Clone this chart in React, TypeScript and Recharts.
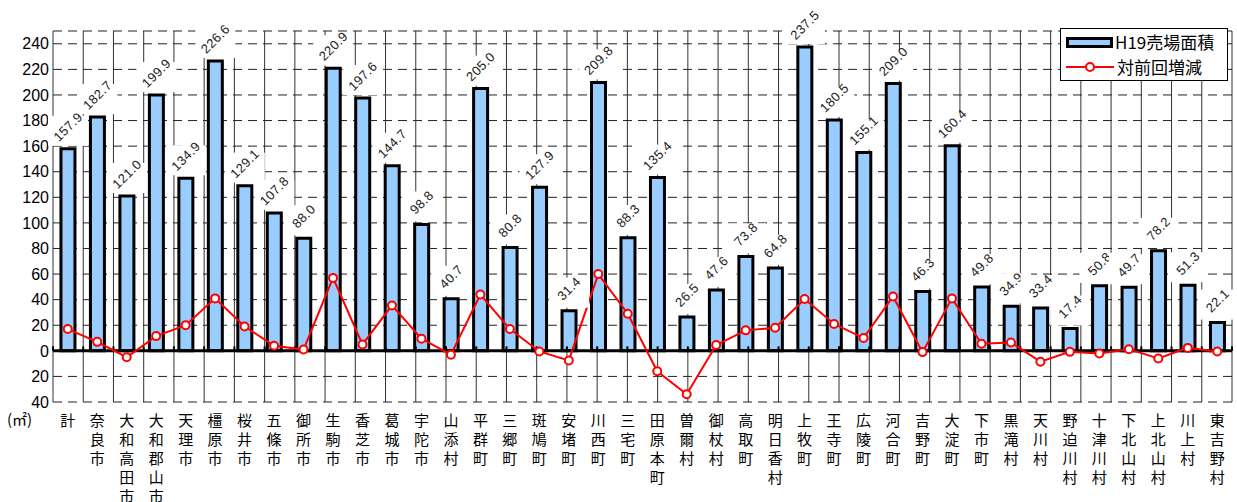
import React from "react";
import {
  ComposedChart,
  Bar,
  Line,
  XAxis,
  YAxis,
  CartesianGrid,
  ReferenceLine,
  ReferenceArea,
} from "recharts";

document.body.style.margin = "0";

// ── Data ──────────────────────────────────────────────────────────────────────

const areaNames = [
  "計", "奈良市", "大和高田市", "大和郡山市", "天理市", "橿原市", "桜井市", "五條市",
  "御所市", "生駒市", "香芝市", "葛城市", "宇陀市", "山添村", "平群町", "三郷町",
  "斑鳩町", "安堵町", "川西町", "三宅町", "田原本町", "曽爾村", "御杖村", "高取町",
  "明日香村", "上牧町", "王寺町", "広陵町", "河合町", "吉野町", "大淀町", "下市町",
  "黒滝村", "天川村", "野迫川村", "十津川村", "下北山村", "上北山村", "川上村", "東吉野村",
];

// H19売場面積
const floorArea = [
  157.9, 182.7, 121.0, 199.9, 134.9, 226.6, 129.1, 107.8, 88.0, 220.9,
  197.6, 144.7, 98.8, 40.7, 205.0, 80.8, 127.9, 31.4, 209.8, 88.3,
  135.4, 26.5, 47.6, 73.8, 64.8, 237.5, 180.5, 155.1, 209.0, 46.3,
  160.4, 49.8, 34.9, 33.4, 17.4, 50.8, 49.7, 78.2, 51.3, 22.1,
];

// 対前回増減
const changeVsPrev = [
  17, 7, -5, 11.5, 20, 41, 19, 4, 1, 57,
  5, 35.5, 9.5, -3, 44, 17, -0.5, -7.5, 60, 29,
  -16, -34, 4.5, 16, 18, 40.5, 21, 10, 42.5, -1,
  41, 5.5, 6.5, -8.5, -0.8, -2, 1.3, -6, 2.3, -0.5,
];

const yTicks = [-40, -20, 0, 20, 40, 60, 80, 100, 120, 140, 160, 180, 200, 220, 240];

const chartData = areaNames.map((name, i) => ({
  name,
  area: floorArea[i],
  change: changeVsPrev[i],
}));

const boundaries = [...areaNames.map((_, i) => i), areaNames.length];

// ── Styles ────────────────────────────────────────────────────────────────────

const LATIN = "'Liberation Sans', Arial, sans-serif";
const CJK = "'Noto Sans CJK JP', sans-serif";
const BAR_FILL = "#99CCFF";
const RED = "#FF0000";

// ── Custom pieces ─────────────────────────────────────────────────────────────

function CatTick(props: any) {
  const { x, y, payload } = props;
  const chars = String(payload.value).split("");
  return (
    <text x={x} y={y + 22} textAnchor="middle" fontSize={15} fontFamily={CJK} fill="#000">
      {chars.map((c, i) => (
        <tspan key={i} x={x} dy={i === 0 ? 0 : 19}>
          {c}
        </tspan>
      ))}
    </text>
  );
}

// rotated value label with a white box behind it (like the Excel original)
function renderValueLabel(props: any) {
  const { x, y, width, index } = props;
  const value = floorArea[index];
  const cx = Number(x) + Number(width) / 2;
  const top = Number(y);
  const cy = top - 22;
  return (
    <g key={`lbl-${index}`}>
      <rect x={cx - 20} y={top - 33} width={40} height={30} fill="#fff" />
      <text
        x={cx}
        y={cy + 4.5}
        transform={`rotate(-45, ${cx}, ${cy})`}
        textAnchor="middle"
        fontSize={13}
        fontFamily={LATIN}
        fill="#222"
        letterSpacing={0.4}
      >
        {value.toFixed(1)}
      </text>
    </g>
  );
}

function Legend() {
  return (
    <div
      style={{
        position: "absolute",
        left: 1060,
        top: 28,
        width: 166,
        height: 51,
        border: "1px solid #000",
        background: "#fff",
        fontFamily: CJK,
        fontSize: 17,
        color: "#000",
      }}
    >
      <div style={{ position: "absolute", left: 5, top: 8, width: 41, height: 5, border: "3px solid #000", background: BAR_FILL }} />
      <div style={{ position: "absolute", left: 54, top: 0, lineHeight: "26px" }}>H19売場面積</div>
      <svg style={{ position: "absolute", left: 5, top: 30 }} width={50} height={16}>
        <line x1={0} y1={8} x2={48} y2={8} stroke={RED} strokeWidth={2} />
        <circle cx={24} cy={8} r={4} fill="#fff" stroke={RED} strokeWidth={2} />
      </svg>
      <div style={{ position: "absolute", left: 56, top: 25, lineHeight: "26px" }}>対前回増減</div>
    </div>
  );
}

// ── Chart ─────────────────────────────────────────────────────────────────────

export default function App() {
  return (
    <div style={{ position: "relative", width: 1237, height: 502, background: "#fff", overflow: "hidden" }}>
      <ComposedChart
        width={1237}
        height={502}
        data={chartData}
        margin={{ top: 31, right: 5, left: 0, bottom: 0 }}
        barCategoryGap="27%"
      >
        <XAxis xAxisId="grid" type="number" domain={[0, areaNames.length]} ticks={boundaries} hide />
        <XAxis
          xAxisId="cat"
          dataKey="name"
          interval={0}
          height={100}
          tickLine={false}
          axisLine={false}
          tickSize={0}
          tick={<CatTick />}
        />
        <YAxis
          domain={[-40, 250]}
          ticks={yTicks}
          width={53}
          tickLine={false}
          axisLine={false}
          tickSize={0}
          tickMargin={4}
          tickFormatter={(v: number) => String(Math.abs(v))}
          tick={{ fill: "#000", fontSize: 16, fontFamily: LATIN }}
        />
        <CartesianGrid xAxisId="grid" horizontal={false} stroke="#333" strokeWidth={1} />
        <CartesianGrid xAxisId="grid" vertical={false} stroke="#222" strokeDasharray="9 6" strokeWidth={1} />
        {boundaries.map((b) => (
          <ReferenceLine
            key={b}
            xAxisId="grid"
            segment={[{ x: b, y: 0 }, { x: b, y: 3.5 }]}
            stroke="#000"
            strokeWidth={2}
          />
        ))}
        <ReferenceArea
          xAxisId="grid"
          x1={0}
          x2={areaNames.length}
          y1={-40}
          y2={250}
          fill="none"
          stroke="#404040"
          strokeWidth={3}
        />
        <ReferenceLine xAxisId="grid" y={0} stroke="#000" strokeWidth={3} />
        <Bar
          xAxisId="cat"
          dataKey="area"
          fill={BAR_FILL}
          stroke="#000"
          strokeWidth={3}
          label={renderValueLabel}
          isAnimationActive={false}
        />
        <Line
          xAxisId="cat"
          dataKey="change"
          stroke={RED}
          strokeWidth={2}
          dot={{ r: 4, fill: "#fff", stroke: RED, strokeWidth: 2 }}
          isAnimationActive={false}
        />
      </ComposedChart>
      <Legend />
      <div style={{ position: "absolute", left: 7, top: 408, fontFamily: CJK, fontSize: 15, color: "#000" }}>(㎡)</div>
    </div>
  );
}
